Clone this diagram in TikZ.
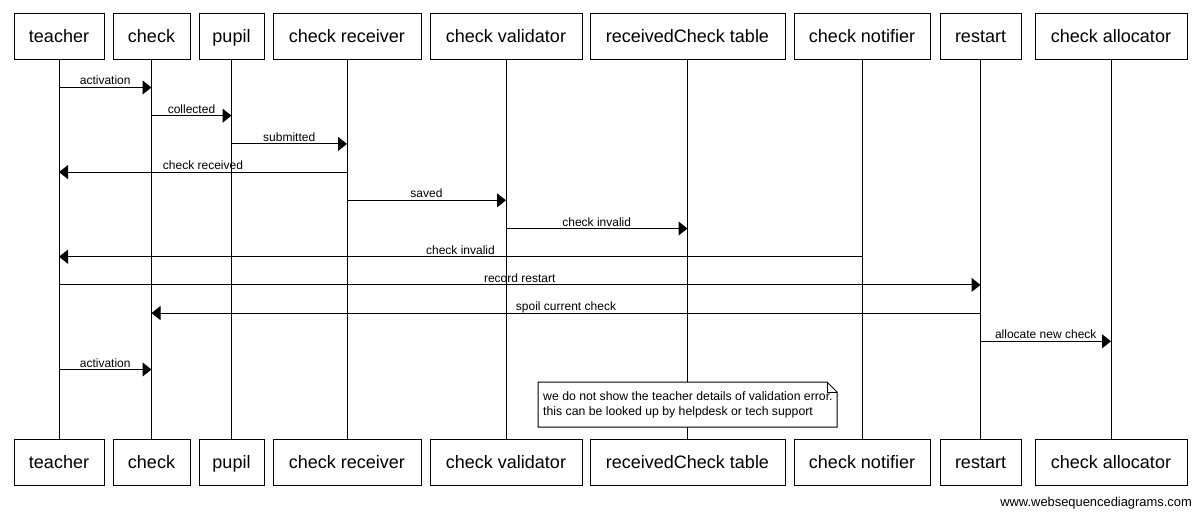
\documentclass[tikz,border=0pt]{standalone}
\usepackage{fontspec}
\setmainfont{Liberation Sans}
\usetikzlibrary{arrows.meta}
\begin{document}
\begin{tikzpicture}[x=1pt,y=-1pt,
  actor/.style={draw, line width=1pt, minimum height=46pt, inner sep=0pt,
    font=\fontsize{18}{20}\selectfont, text height=13pt, text depth=1pt},
  life/.style={line width=1pt},
  msg/.style={line width=1pt, -{Triangle[length=9pt,width=14pt]}},
  lbl/.style={font=\fontsize{12}{14}\selectfont, anchor=base, yshift=2.5pt, inner sep=0pt},
  notetxt/.style={font=\fontsize{12.25}{14}\selectfont, anchor=base west, inner sep=0pt}]
\useasboundingbox (0,0) rectangle (1200,516);
% top actors
\node[actor, minimum width=90pt]  (tT) at (59,37)    {teacher};
\node[actor, minimum width=77pt]  (cT) at (151.5,37) {check};
\node[actor, minimum width=65pt]  (pT) at (231.5,37) {pupil};
\node[actor, minimum width=148pt] (rT) at (347,37)   {check receiver};
\node[actor, minimum width=152pt] (vT) at (506,37)   {check validator};
\node[actor, minimum width=195pt] (kT) at (687.5,37) {receivedCheck table};
\node[actor, minimum width=136pt] (nT) at (862,37)   {check notifier};
\node[actor, minimum width=81pt]  (sT) at (980.5,37) {restart};
\node[actor, minimum width=152pt] (aT) at (1111,37)  {check allocator};
% bottom actors
\node[actor, minimum width=90pt]  (tB) at (59,462)    {teacher};
\node[actor, minimum width=77pt]  (cB) at (151.5,462) {check};
\node[actor, minimum width=65pt]  (pB) at (231.5,462) {pupil};
\node[actor, minimum width=148pt] (rB) at (347,462)   {check receiver};
\node[actor, minimum width=152pt] (vB) at (506,462)   {check validator};
\node[actor, minimum width=195pt] (kB) at (687.5,462) {receivedCheck table};
\node[actor, minimum width=136pt] (nB) at (862,462)   {check notifier};
\node[actor, minimum width=81pt]  (sB) at (980.5,462) {restart};
\node[actor, minimum width=152pt] (aB) at (1111,462)  {check allocator};
% lifelines
\foreach \a in {t,c,p,r,v,k,n,s,a}{
  \draw[life] (\a T) -- (\a B);
}
% messages
\draw[msg] (tT |- 0,87.5)  -- (cT |- 0,87.5)  node[lbl, midway] {activation};
\draw[msg] (cT |- 0,115.7) -- (pT |- 0,115.7) node[lbl, midway] {collected};
\draw[msg] (pT |- 0,143.9) -- (rT |- 0,143.9) node[lbl, midway] {submitted};
\draw[msg] (rT |- 0,172.1) -- (tT |- 0,172.1) node[lbl, midway] {check received};
\draw[msg] (rT |- 0,200.3) -- (vT |- 0,200.3) node[lbl, midway] {saved};
\draw[msg] (vT |- 0,228.5) -- (kT |- 0,228.5) node[lbl, midway] {check invalid};
\draw[msg] (nT |- 0,256.7) -- (tT |- 0,256.7) node[lbl, midway] {check invalid};
\draw[msg] (tT |- 0,284.9) -- (sT |- 0,284.9) node[lbl, midway] {record restart};
\draw[msg] (sT |- 0,313.1) -- (cT |- 0,313.1) node[lbl, midway] {spoil current check};
\draw[msg] (sT |- 0,341.3) -- (aT |- 0,341.3) node[lbl, midway] {allocate new check};
\draw[msg] (tT |- 0,369.5) -- (cT |- 0,369.5) node[lbl, midway] {activation};
% note
\draw[line width=1pt, fill=white] (538,382) -- (827,382) -- (837,392) -- (837,427) -- (538,427) -- cycle;
\draw[line width=0.8pt] (827,382) -- (827,392) -- (837,392);
\node[notetxt] (note1) at (543,400.5) {we do not show the teacher details of validation error.};
\node[notetxt] (note2) at (543,415.7) {this can be looked up by helpdesk or tech support};
% footer
\node[font=\fontsize{12.9}{14}\selectfont, anchor=base east, inner sep=0pt] (footer) at (1192,506) {www.websequencediagrams.com};
\end{tikzpicture}
\end{document}
